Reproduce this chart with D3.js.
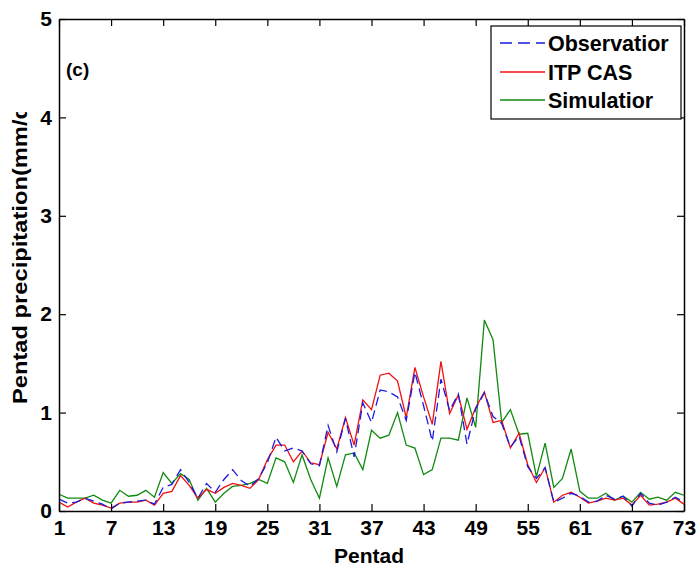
<!DOCTYPE html>
<html>
<head>
<meta charset="utf-8">
<script src="https://cdn.jsdelivr.net/npm/d3@7"></script>
<style>
  body { margin: 0; background: #fff; }
  text { font-family: "Liberation Sans", Arial, sans-serif; font-weight: bold; fill: #000; }
</style>
</head>
<body>
<script>
// pentads 1..73
var pentads = d3.range(1, 74);

var observation = [0.12, 0.08, 0.09, 0.13, 0.10, 0.07, 0.02, 0.08, 0.09, 0.10,
  0.11, 0.07, 0.24, 0.27, 0.42, 0.29, 0.13, 0.28, 0.19, 0.32,
  0.42, 0.31, 0.25, 0.33, 0.49, 0.75, 0.61, 0.64, 0.61, 0.48,
  0.46, 0.87, 0.60, 0.94, 0.55, 1.10, 0.90, 1.23, 1.21, 1.16,
  0.92, 1.41, 1.07, 0.71, 1.34, 1.02, 1.19, 0.68, 1.04, 1.20,
  0.96, 0.89, 0.65, 0.76, 0.45, 0.33, 0.44, 0.09, 0.13, 0.18,
  0.15, 0.09, 0.10, 0.16, 0.12, 0.15, 0.05, 0.18, 0.08, 0.06,
  0.09, 0.14, 0.09];

var itpcas = [0.09, 0.04, 0.09, 0.13, 0.08, 0.06, 0.03, 0.08, 0.09, 0.09,
  0.11, 0.06, 0.18, 0.20, 0.36, 0.26, 0.13, 0.22, 0.18, 0.24,
  0.28, 0.26, 0.23, 0.32, 0.52, 0.67, 0.67, 0.50, 0.61, 0.49,
  0.47, 0.80, 0.63, 0.95, 0.67, 1.13, 1.03, 1.38, 1.40, 1.32,
  0.95, 1.46, 1.16, 0.88, 1.52, 0.99, 1.18, 0.83, 1.05, 1.21,
  0.90, 0.92, 0.64, 0.79, 0.47, 0.29, 0.44, 0.09, 0.16, 0.19,
  0.14, 0.08, 0.10, 0.13, 0.11, 0.13, 0.06, 0.16, 0.06, 0.07,
  0.09, 0.13, 0.07];

var simulation = [0.17, 0.13, 0.13, 0.13, 0.16, 0.11, 0.08, 0.21, 0.15, 0.16,
  0.21, 0.14, 0.39, 0.28, 0.38, 0.32, 0.11, 0.23, 0.09, 0.18,
  0.25, 0.26, 0.28, 0.32, 0.28, 0.54, 0.50, 0.29, 0.57, 0.32,
  0.13, 0.54, 0.25, 0.57, 0.59, 0.42, 0.82, 0.74, 0.77, 1.00,
  0.67, 0.64, 0.37, 0.42, 0.74, 0.74, 0.72, 1.15, 0.85, 1.94,
  1.74, 0.90, 1.03, 0.78, 0.79, 0.35, 0.69, 0.24, 0.33, 0.63,
  0.20, 0.13, 0.13, 0.18, 0.11, 0.15, 0.09, 0.19, 0.12, 0.14,
  0.11, 0.19, 0.16];

var xTicks = [1, 7, 13, 19, 25, 31, 37, 43, 49, 55, 61, 67, 73];
var yTicks = [0, 1, 2, 3, 4, 5];

var seriesNames = ["Observatior", "ITP CAS", "Simulatior"];
var seriesColors = ["#1a1ae0", "#f01010", "#108a10"];

var width = 696, height = 567;
var mLeft = 59, mRight = 684, mTop = 19, mBottom = 511;

var svg = d3.select("body").append("svg")
    .attr("width", width)
    .attr("height", height);

var x = d3.scaleLinear().domain([1, 73]).range([mLeft, mRight]);
var y = d3.scaleLinear().domain([0, 5]).range([mBottom, mTop]);

// lines
var line = d3.line()
    .x(function (d, i) { return x(pentads[i]); })
    .y(function (d) { return y(d); });

svg.append("path").datum(simulation)
    .attr("d", line)
    .style("fill", "none").style("stroke", seriesColors[2]).style("stroke-width", 1.3);
svg.append("path").datum(itpcas)
    .attr("d", line)
    .style("fill", "none").style("stroke", seriesColors[1]).style("stroke-width", 1.3);
svg.append("path").datum(observation)
    .attr("d", line)
    .style("fill", "none").style("stroke", seriesColors[0]).style("stroke-width", 1.3)
    .style("stroke-dasharray", "9,5");

// frame and axes, ticks inward like matlab
var xAxis = svg.append("g").attr("transform", "translate(0," + mBottom + ")")
    .call(d3.axisBottom(x).tickValues(xTicks).tickSizeInner(-7).tickSizeOuter(0).tickPadding(9));
var xTop = svg.append("g").attr("transform", "translate(0," + mTop + ")")
    .call(d3.axisTop(x).tickValues(xTicks).tickSizeInner(-7).tickSizeOuter(0).tickFormat(""));
var yAxis = svg.append("g").attr("transform", "translate(" + mLeft + ",0)")
    .call(d3.axisLeft(y).tickValues(yTicks).tickFormat(d3.format("d"))
        .tickSizeInner(-7).tickSizeOuter(0).tickPadding(7));
var yRight = svg.append("g").attr("transform", "translate(" + mRight + ",0)")
    .call(d3.axisRight(y).tickValues(yTicks).tickSizeInner(-7).tickSizeOuter(0).tickFormat(""));

svg.selectAll(".domain").style("stroke", "#000").style("stroke-width", 1.5);
svg.selectAll(".tick line").style("stroke", "#000").style("stroke-width", 1.2);
svg.selectAll(".tick text").style("font-size", "21px").style("font-weight", "bold")
    .style("font-family", "'Liberation Sans', Arial, sans-serif");
xAxis.selectAll(".tick text").attr("dy", "0.72em");

// axis labels
svg.append("text")
    .attr("x", 369).attr("y", 563)
    .attr("text-anchor", "middle")
    .style("font-size", "21px")
    .text("Pentad");

svg.append("clipPath").attr("id", "ylabclip")
    .append("rect").attr("x", 0).attr("y", 112).attr("width", 40).attr("height", 400);
svg.append("g")
    .attr("clip-path", "url(#ylabclip)")
    .append("text")
    .attr("transform", "translate(27,404) rotate(-90)")
    .attr("text-anchor", "start")
    .style("font-size", "20px")
    .attr("textLength", 299)
    .attr("lengthAdjust", "spacingAndGlyphs")
    .text("Pentad precipitation(mm/d");

svg.append("text")
    .attr("x", 66).attr("y", 76)
    .style("font-size", "19px")
    .text("(c)");

// legend
var lg = svg.append("g");
lg.append("rect")
    .attr("x", 491).attr("y", 26).attr("width", 190).attr("height", 93)
    .style("fill", "#fff").style("stroke", "#000").style("stroke-width", 1.2);
var ly = [43, 72, 100];
seriesNames.forEach(function (name, i) {
    lg.append("line")
        .attr("x1", 500).attr("x2", 545)
        .attr("y1", ly[i]).attr("y2", ly[i])
        .style("stroke", seriesColors[i]).style("stroke-width", 1.3)
        .style("stroke-dasharray", i === 0 ? "12,6" : null);
    lg.append("text")
        .attr("x", 548).attr("y", ly[i])
        .attr("dy", "0.36em")
        .style("font-size", "21.5px")
        .text(name);
});
</script>
</body>
</html>
